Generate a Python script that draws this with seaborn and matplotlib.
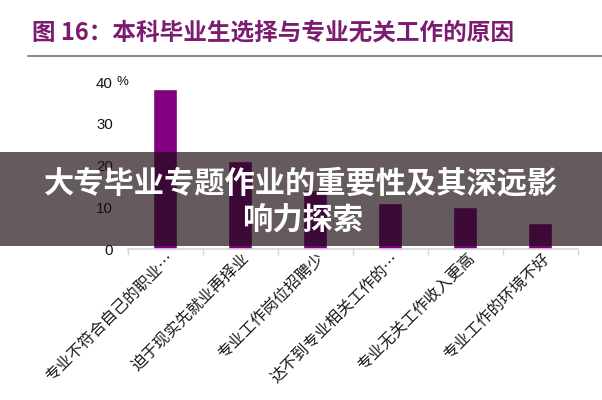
import numpy as np
import seaborn as sns
import matplotlib.pyplot as plt
from matplotlib.patches import Rectangle
from matplotlib.lines import Line2D
from matplotlib.transforms import ScaledTranslation

# Chart data
reasons = ['专业不符合自己的职业…', '迫于现实先就业再择业', '专业工作岗位招聘少',
           '达不到专业相关工作的…', '专业无关工作收入更高', '专业工作的环境不好']
shares = [38.3, 21.1, 14.1, 11.1, 10.1, 6.2]
y_ticks = [0, 10, 20, 30, 40]

title = '图 16：本科毕业生选择与专业无关工作的原因'
banner_lines = ['大专毕业专题作业的重要性及其深远影', '响力探索']

sns.set_theme(style='white')
plt.rcParams['font.family'] = ['Noto Sans CJK SC', 'DejaVu Sans']

fig = plt.figure(figsize=(6.02, 4.0), dpi=100)
ax = fig.add_axes([127.5 / 602, 1 - 249 / 400, 450 / 602, 167 / 400])

sns.barplot(x=reasons, y=shares, color='#800080', saturation=1, width=0.32, ax=ax)

ax.set_ylim(0, 40)
ax.set_xlim(-0.5, len(reasons) - 0.5)
ax.set_yticks(y_ticks)
ax.set_yticklabels([str(t) for t in y_ticks], fontfamily='Liberation Sans', fontsize=10.8)
ax.tick_params(axis='y', length=0, pad=10.5, colors='#111111')
ax.set_xlabel('')
ax.set_ylabel('')

for s in ['top', 'right', 'left']:
    ax.spines[s].set_visible(False)
ax.spines['bottom'].set_color('#d6d6d6')
ax.spines['bottom'].set_linewidth(1.2)

# boundary ticks between categories
ax.set_xticks(np.arange(-0.5, len(reasons)), minor=True)
ax.tick_params(axis='x', which='minor', length=4, color='#d6d6d6', width=1, bottom=True)
ax.tick_params(axis='x', which='major', length=0, pad=5)

ax.set_xticks(range(len(reasons)))
ax.set_xticklabels(reasons, rotation=45, ha='right', va='center', rotation_mode='anchor',
                   fontsize=11.4, color='#1a1a1a', fontweight='light')
offset = ScaledTranslation(7 / 100, 0, fig.dpi_scale_trans)
for lbl in ax.get_xticklabels():
    lbl.set_transform(lbl.get_transform() + offset)

# percent sign next to the top tick
fig.text(116 / 602, 1 - 85 / 400, '%', fontsize=9.5, fontfamily='Liberation Sans',
         color='#111111', ha='left', va='baseline')

# title and rule
fig.text(32 / 602, 1 - 32 / 400, title, fontsize=17, fontweight='bold',
         color='#7b1c70', ha='left', va='center')
fig.add_artist(Line2D([28 / 602, 1], [1 - 56 / 400, 1 - 56 / 400],
                      transform=fig.transFigure, color='#8c8c8c', lw=1.5))

# dark banner over the chart
fig.add_artist(Rectangle((0, 1 - 246 / 400), 1, 94 / 400, transform=fig.transFigure,
                         facecolor=(0.11, 0.05, 0.08), alpha=0.68, edgecolor='none', zorder=5))
fig.text(301 / 602, 1 - 183 / 400, banner_lines[0], fontsize=21.8, fontweight='bold',
         color='white', ha='center', va='center', zorder=6)
fig.text(303 / 602, 1 - 220 / 400, banner_lines[1], fontsize=21.8, fontweight='bold',
         color='white', ha='center', va='center', zorder=6)

fig.savefig('out.png', dpi=100)
